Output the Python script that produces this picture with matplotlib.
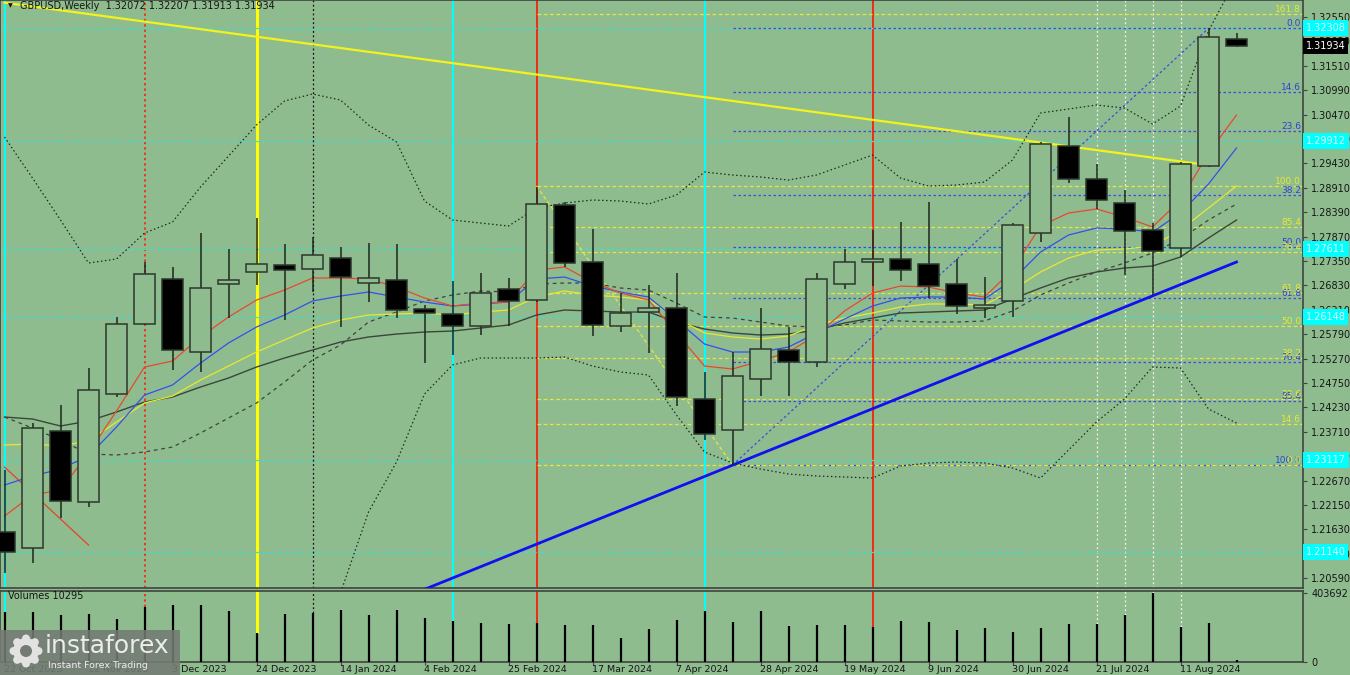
import numpy as np
import matplotlib
matplotlib.use('Agg')
import matplotlib.pyplot as plt
from matplotlib.patches import Rectangle, Circle
import matplotlib.transforms as mtransforms

plt.rcParams['font.family'] = ['DejaVu Sans']

BG = '#8fbc8f'
W, H = 1350, 675

# weekly GBPUSD bars, 22 Oct 2023 .. 25 Aug 2024
opens = [1.21580, 1.21226, 1.23720, 1.22220, 1.24515, 1.26001, 1.26966, 1.25410, 1.26866, 1.27109,
         1.27264, 1.27179, 1.27407, 1.26874, 1.26938, 1.26320, 1.26220, 1.25971, 1.26746, 1.26525,
         1.28543, 1.27322, 1.25958, 1.26269, 1.26342, 1.24415, 1.23748, 1.24828, 1.25453, 1.25203,
         1.26853, 1.27328, 1.27392, 1.27286, 1.26859, 1.26354, 1.26504, 1.27940, 1.29807, 1.29104,
         1.28579, 1.28010, 1.27633, 1.29381, 1.32072]
highs = [1.22895, 1.23891, 1.24281, 1.25063, 1.26163, 1.27335, 1.27228, 1.27947, 1.27605, 1.28266,
         1.27712, 1.27868, 1.27648, 1.27740, 1.27712, 1.26412, 1.26923, 1.27087, 1.26981, 1.28933,
         1.28614, 1.28025, 1.26674, 1.26838, 1.27087, 1.24990, 1.25410, 1.26354, 1.25949, 1.27100,
         1.27605, 1.28010, 1.28174, 1.28601, 1.27392, 1.27015, 1.28166, 1.29892, 1.30425, 1.29411,
         1.28863, 1.28153, 1.29453, 1.32308, 1.32207]
lows = [1.20700, 1.20907, 1.21866, 1.22113, 1.24457, 1.25986, 1.25027, 1.24990, 1.26135, 1.26838,
        1.26092, 1.26689, 1.25949, 1.26482, 1.26128, 1.25169, 1.25346, 1.25773, 1.25971, 1.26482,
        1.27228, 1.25751, 1.25843, 1.25382, 1.24259, 1.23535, 1.23000, 1.24472, 1.24472, 1.25097,
        1.26753, 1.26817, 1.26930, 1.26555, 1.26214, 1.26128, 1.26150, 1.27761, 1.29006, 1.28452,
        1.27051, 1.26625, 1.27428, 1.29359, 1.31913]
closes = [1.21154, 1.23797, 1.22235, 1.24600, 1.26001, 1.27079, 1.25453, 1.26774, 1.26951, 1.27279,
          1.27158, 1.27471, 1.27002, 1.26981, 1.26305, 1.26248, 1.25964, 1.26674, 1.26497, 1.28558,
          1.27301, 1.25986, 1.26235, 1.26342, 1.24457, 1.23663, 1.24899, 1.25468, 1.25203, 1.26972,
          1.27335, 1.27386, 1.27151, 1.26817, 1.26391, 1.26418, 1.28117, 1.29843, 1.29091, 1.28650,
          1.27995, 1.27563, 1.29411, 1.32130, 1.31934]
volumes = [292500, 292500, 274980, 280830, 251580, 321780, 333480, 333480, 298380, 169660,
           280830, 286680, 304230, 274980, 304230, 257420, 239870, 228170, 222320, 228170,
           216470, 216470, 140410, 193070, 245720, 298380, 234020, 298380, 210620, 216470,
           216470, 204770, 239870, 234020, 187220, 198920, 175520, 198920, 222320, 222320,
           274980, 403692, 204770, 228170, 10295]

ma_red = [1.21915, 1.22362, 1.22469, 1.23257, 1.24152, 1.25090, 1.25218, 1.25730, 1.26156, 1.26518,
          1.26731, 1.26987, 1.26987, 1.26966, 1.26795, 1.26561, 1.26390, 1.26454, 1.26475, 1.27157,
          1.27221, 1.26902, 1.26667, 1.26518, 1.25815, 1.25111, 1.25048, 1.25218, 1.25410, 1.25772,
          1.26284, 1.26667, 1.26816, 1.26795, 1.26667, 1.26582, 1.27157, 1.28095, 1.28372, 1.28458,
          1.28287, 1.28074, 1.28649, 1.29651, 1.30461]
ma_blue = [1.22575, 1.22767, 1.22916, 1.23193, 1.23811, 1.24493, 1.24707, 1.25175, 1.25602, 1.25943,
           1.26198, 1.26497, 1.26603, 1.26689, 1.26582, 1.26475, 1.26390, 1.26433, 1.26475, 1.26966,
           1.27008, 1.26816, 1.26689, 1.26582, 1.26092, 1.25580, 1.25410, 1.25410, 1.25516, 1.25815,
           1.26113, 1.26390, 1.26561, 1.26582, 1.26582, 1.26539, 1.26944, 1.27541, 1.27903, 1.28053,
           1.28031, 1.27967, 1.28372, 1.28990, 1.29758]
ma_yellow = [1.23428, 1.23449, 1.23406, 1.23513, 1.23918, 1.24323, 1.24472, 1.24813, 1.25111, 1.25410,
             1.25666, 1.25921, 1.26092, 1.26198, 1.26220, 1.26241, 1.26198, 1.26262, 1.26305, 1.26582,
             1.26710, 1.26625, 1.26582, 1.26518, 1.26134, 1.25815, 1.25730, 1.25687, 1.25751, 1.25985,
             1.26134, 1.26241, 1.26369, 1.26433, 1.26433, 1.26412, 1.26731, 1.27115, 1.27413, 1.27584,
             1.27605, 1.27669, 1.28010, 1.28479, 1.28948]
ma_gray = [1.24024, 1.23982, 1.23833, 1.23939, 1.24131, 1.24344, 1.24451, 1.24664, 1.24856, 1.25090,
           1.25282, 1.25452, 1.25623, 1.25730, 1.25793, 1.25836, 1.25857, 1.25921, 1.25985, 1.26198,
           1.26305, 1.26284, 1.26262, 1.26262, 1.26049, 1.25900, 1.25815, 1.25772, 1.25793, 1.25879,
           1.26028, 1.26134, 1.26241, 1.26262, 1.26284, 1.26305, 1.26539, 1.26774, 1.26987, 1.27115,
           1.27200, 1.27243, 1.27435, 1.27840, 1.28223]
ma_dashed = [1.24024, 1.23790, 1.23534, 1.23236, 1.23215, 1.23279, 1.23385, 1.23683, 1.24003, 1.24323,
             1.24770, 1.25239, 1.25559, 1.26049, 1.26262, 1.26497, 1.26625, 1.26710, 1.26689, 1.26859,
             1.26880, 1.26880, 1.26774, 1.26731, 1.26454, 1.26156, 1.26134, 1.26049, 1.25964, 1.25943,
             1.25985, 1.26092, 1.26071, 1.26049, 1.26049, 1.26071, 1.26284, 1.26625, 1.26880, 1.27115,
             1.27307, 1.27520, 1.27818, 1.28223, 1.28564]
band_upper = [1.29992, 1.29118, 1.28223, 1.27307, 1.27392, 1.27946, 1.28181, 1.28926, 1.29587, 1.30248,
              1.30759, 1.30909, 1.30781, 1.30248, 1.29886, 1.28628, 1.28223, 1.28159, 1.28095, 1.28479,
              1.28585, 1.28649, 1.28628, 1.28564, 1.28756, 1.29246, 1.29182, 1.29140, 1.29076, 1.29182,
              1.29395, 1.29608, 1.29118, 1.28948, 1.28969, 1.29033, 1.29502, 1.30504, 1.30589, 1.30674,
              1.30610, 1.30269, 1.30653, 1.32251, 1.33381]
band_lower = [np.nan] * 11 + [
              1.18419, 1.20273, 1.22000, 1.23065, 1.24515, 1.25133, 1.25282, 1.25282, 1.25282,
              1.25303, 1.25111, 1.24984, 1.24920, 1.24067, 1.23279, 1.23044, 1.22916, 1.22810, 1.22767,
              1.22746, 1.22724, 1.22980, 1.23044, 1.23065, 1.23044, 1.22938, 1.22724, 1.23321, 1.23918,
              1.24408, 1.25090, 1.25069, 1.24195, 1.23897]

date_labels = ['22 Oct 2023', '12 Nov 2023', '3 Dec 2023', '24 Dec 2023', '14 Jan 2024',
               '4 Feb 2024', '25 Feb 2024', '17 Mar 2024', '7 Apr 2024', '28 Apr 2024',
               '19 May 2024', '9 Jun 2024', '30 Jun 2024', '21 Jul 2024', '11 Aug 2024']
date_idx = list(range(0, 45, 3))

price_ticks = [1.20590 + 0.0052 * k for k in range(24)]

# horizontal cyan levels with their axis tags
cyan_levels = [1.32308, 1.29912, 1.27611, 1.26148, 1.23117, 1.21140]

# fibonacci objects
fib_levels = [0.0, 14.6, 23.6, 38.2, 50.0, 61.8, 76.4, 85.4, 100.0]
fib_blue = (26, 1.23000, 43, 1.32308)      # 100 at low, 0 at high
fib_yel_levels = [0.0, 14.6, 23.6, 38.2, 50.0, 61.8, 76.4, 85.4, 100.0, 161.8]
fib_yel = (19, 1.28948, 26, 1.23000)       # 100 at high, 0 at low

# trend lines
tl_yellow = ([0.0, 42.55], [1.32855, 1.29428])
tl_blue = ([14.91, 44.0], [1.20330, 1.27328])
tl_red = ([0.0, 3.0], [1.22959, 1.21296])

# vertical markers
vl_cyan = [0, 16, 25]
vl_yellow = [9]
vl_red = [19, 31]
vl_red_dot = [5]
vl_black_dot = [11]
vl_white_dot = [39, 40, 41, 42]

n = len(opens)
idx = np.arange(n)
XL = (-4.5 / 28, (1303 - 4.5) / 28)
VTOP = (662 - 591) * 5850.6

fig = plt.figure(figsize=(W / 100, H / 100), dpi=100, facecolor=BG)
ax = fig.add_axes([0, (H - 588) / H, 1303 / W, 588 / H], facecolor=BG)
axv = fig.add_axes([0, (H - 662) / H, 1303 / W, (662 - 591) / H], facecolor=BG)

ax.set_xlim(*XL)
ax.set_ylim(1.329123 - 588 * 0.000213129, 1.329123)
axv.set_xlim(*XL)
axv.set_ylim(-1000, VTOP)

vstyles = [(vl_cyan, dict(color='#00ffff', lw=1.5)),
           (vl_yellow, dict(color='#ffff00', lw=2.2)),
           (vl_red, dict(color='#ff1400', lw=1.2)),
           (vl_red_dot, dict(color='#ff1400', lw=1.1, ls=(0, (1.5, 2)))),
           (vl_black_dot, dict(color='#111111', lw=0.9, ls=(0, (1.5, 2)))),
           (vl_white_dot, dict(color='#eef4ee', lw=0.9, ls=(0, (1.5, 2))))]
for lines, st in vstyles:
    for i in lines:
        ax.axvline(i, zorder=1, **st)
        # in the volume pane the marker stops at the bar top
        axv.vlines(i, volumes[i], VTOP, zorder=1, **st)

# cyan horizontal levels
for p in cyan_levels:
    ax.axhline(p, color='#35e0d5', lw=0.9, ls=(0, (3, 3)), zorder=1)

# fibo levels
xr = XL[1]
b0x, b100, b1x, b0 = fib_blue
for lv in fib_levels:
    p = b0 - lv / 100 * (b0 - b100)
    ax.plot([b0x, xr], [p, p], color='#3b4be0', lw=0.9, ls=(0, (2, 2)), zorder=2)
ax.plot([b0x, b1x], [b100, b0], color='#3b4be0', lw=0.9, ls=(0, (2, 2)), zorder=2)
y100x, y100, y0x, y0 = fib_yel
for lv in fib_yel_levels:
    p = y0 + lv / 100 * (y100 - y0)
    ax.plot([y100x, xr], [p, p], color='#e6e640', lw=0.9, ls=(0, (3, 2)), zorder=2)
ax.plot([y100x, y0x], [y100, y0], color='#e6e640', lw=0.9, ls=(0, (3, 2)), zorder=2)

lbl_tr = mtransforms.blended_transform_factory(ax.transAxes, ax.transData)
for lv in fib_levels:
    p = b0 - lv / 100 * (b0 - b100)
    ax.text(0.9985, p, f'{lv:.1f}', transform=lbl_tr, ha='right', va='bottom',
            fontsize=6.5, color='#3040d8', zorder=6)
for lv in fib_yel_levels:
    p = y0 + lv / 100 * (y100 - y0)
    ax.text(0.9985, p, f'{lv:.1f}', transform=lbl_tr, ha='right', va='bottom',
            fontsize=6.5, color='#e8e830', zorder=6)

# trend lines
ax.plot(*tl_yellow, color='#f2f21e', lw=1.6, zorder=3)
ax.plot(*tl_blue, color='#1010f0', lw=2.0, zorder=3)
ax.plot(*tl_red, color='#e8402a', lw=0.9, zorder=3)

# indicators
ax.plot(idx, band_upper, color='#1f2a1f', lw=0.9, ls=(0, (1.2, 2)), zorder=3)
ax.plot(idx, band_lower, color='#1f2a1f', lw=0.9, ls=(0, (1.2, 2)), zorder=3)
ax.plot(idx, ma_dashed, color='#3a463a', lw=0.9, ls=(0, (3, 3)), zorder=3)
ax.plot(idx, ma_gray, color='#3a463a', lw=1.0, zorder=3)
ax.plot(idx, ma_yellow, color='#e8e832', lw=0.9, zorder=3)
ax.plot(idx, ma_blue, color='#3350ec', lw=0.9, zorder=3)
ax.plot(idx, ma_red, color='#e8482e', lw=0.9, zorder=3)

# candles
bw = 0.76
for i in range(n):
    o, h, l, c = opens[i], highs[i], lows[i], closes[i]
    ax.vlines(i, l, h, color='#1c261c', lw=1.1, zorder=4)
    bull = c >= o
    ax.add_patch(Rectangle((i - bw / 2, min(o, c)), bw, max(abs(c - o), 0.00012),
                           facecolor=BG if bull else 'black', edgecolor='#2c382c',
                           lw=1.1, zorder=5))

# volumes
axv.vlines(idx, 0, volumes, color='black', lw=1.6, zorder=4)

# axes styling
for a in (ax, axv):
    for s in a.spines.values():
        s.set_color('#404440')
        s.set_linewidth(1.2)
ax.set_xticks([])
ax.yaxis.tick_right()
ax.set_yticks(price_ticks)
ax.set_yticklabels([f'{p:.5f}' for p in price_ticks])
ax.tick_params(axis='y', direction='out', length=3, pad=3, labelsize=7,
               colors='#404440', labelcolor='#151515')

axv.yaxis.tick_right()
axv.set_yticks([0, max(volumes)])
axv.set_yticklabels(['0', f'{max(volumes)}'])
axv.tick_params(axis='y', direction='out', length=3, pad=3, labelsize=7,
                colors='#404440', labelcolor='#151515')
axv.set_xticks(date_idx)
axv.set_xticklabels(date_labels, ha='left')
axv.tick_params(axis='x', direction='out', length=2, pad=0.3, labelsize=6.8,
                colors='#404440', labelcolor='#151515')

# price tags on the right scale
for p in cyan_levels:
    ax.text(1.002, p, f'{p:.5f}', transform=lbl_tr, ha='left', va='center', fontsize=7,
            color='#d8ffff', zorder=10, clip_on=False,
            bbox=dict(boxstyle='square,pad=0.3', fc='#00ffff', ec='none'))
ax.text(1.002, closes[-1], f'{closes[-1]:.5f}', transform=lbl_tr, ha='left', va='center',
        fontsize=7, color='white', zorder=10, clip_on=False,
        bbox=dict(boxstyle='square,pad=0.3', fc='black', ec='none'))

# header texts
fig.text(20 / W, 1 - 6 / H, f'GBPUSD,Weekly  {opens[-1]:.5f} {highs[-1]:.5f} {lows[-1]:.5f} {closes[-1]:.5f}',
         fontsize=7, color='#151515', va='center', ha='left')
fig.text(8 / W, 1 - 6 / H, '\u25bc', fontsize=4.5, color='#151515', va='center', ha='left')
fig.text(8 / W, 1 - 596 / H, f'Volumes {volumes[-1]}', fontsize=7, color='#151515',
         va='center', ha='left')

# watermark
logo = Rectangle((0, 0), 180 / W, 45 / H, transform=fig.transFigure, fc='#747a74',
                 ec='none', alpha=0.88, zorder=20)
fig.add_artist(logo)
gear_c = (0.26, (H - 651) / 100)
for k in range(8):
    ang = k * np.pi / 4
    fig.add_artist(Circle((gear_c[0] + 0.125 * np.cos(ang), gear_c[1] + 0.125 * np.sin(ang)), 0.04,
                          transform=fig.dpi_scale_trans, fc='#e2e2e2', ec='none', zorder=21))
fig.add_artist(Circle(gear_c, 0.13, transform=fig.dpi_scale_trans, fc='#e2e2e2', ec='none', zorder=21))
fig.add_artist(Circle(gear_c, 0.06, transform=fig.dpi_scale_trans, fc='#747a74', ec='none', zorder=22))
fig.text(45 / W, 1 - 646 / H, 'instaforex', fontsize=18, color='#ececec', va='center',
         ha='left', zorder=23)
fig.text(48 / W, 1 - 666 / H, 'Instant Forex Trading', fontsize=6.8, color='#ececec',
         va='center', ha='left', zorder=23)

fig.savefig('out.png', dpi=100, facecolor=BG)
